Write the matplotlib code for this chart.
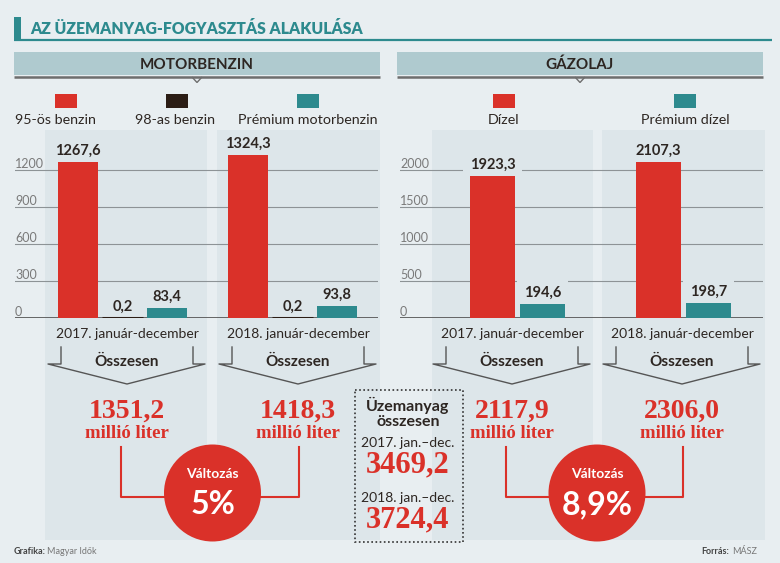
import matplotlib
matplotlib.use('Agg')
import matplotlib.pyplot as plt
from matplotlib.patches import Rectangle, Circle, Polygon
from matplotlib.transforms import blended_transform_factory

# ---------------- data ----------------
title = "AZ ÜZEMANYAG-FOGYASZTÁS ALAKULÁSA"
groups = ["MOTORBENZIN", "GÁZOLAJ"]
periods = ["2017. január-december", "2018. január-december"]
benzin_series = ["95-ös benzin", "98-as benzin", "Prémium motorbenzin"]
benzin_2017 = [1267.6, 0.2, 83.4]
benzin_2018 = [1324.3, 0.2, 93.8]
benzin_ticks = [0, 300, 600, 900, 1200]
gazolaj_series = ["Dízel", "Prémium dízel"]
gazolaj_2017 = [1923.3, 194.6]
gazolaj_2018 = [2107.3, 198.7]
gazolaj_ticks = [0, 500, 1000, 1500, 2000]
benzin_totals = ["1351,2", "1418,3"]
gazolaj_totals = ["2117,9", "2306,0"]
changes = ["5%", "8,9%"]
all_periods = ["2017. jan.–dec.", "2018. jan.–dec."]
all_totals = ["3469,2", "3724,4"]
source = ("Grafika:", "Magyar Idők")
forras = ("Forrás:", "MÁSZ")

# ---------------- style ----------------
W, H, DPI = 780, 563, 100
BG = "#e8eef1"
PANEL = "#dde6ea"
HEAD = "#afcacf"
TEAL = "#2d8a8e"
RED = "#da3129"
DARK = "#2b1d15"
TXT = "#2d2622"
SANS = ["Lato", "DejaVu Sans"]
SERIF = ["Liberation Serif", "DejaVu Serif"]
plt.rcParams['font.family'] = SANS

benzin_colors = [RED, DARK, TEAL]
gazolaj_colors = [RED, TEAL]

fig = plt.figure(figsize=(W / DPI, H / DPI), dpi=DPI)
fig.patch.set_facecolor(BG)


def rect(x0, y0, x1, y1):
    return [x0 / W, 1 - y1 / H, (x1 - x0) / W, (y1 - y0) / H]


def fmt(v):
    return f"{v:.1f}".replace(".", ",")


# background panels
bg = fig.add_axes([0, 0, 1, 1], zorder=0)
bg.set_xlim(0, W); bg.set_ylim(H, 0); bg.axis('off')
for x0, x1 in [(45, 207), (217, 380), (432, 593), (602, 765)]:
    bg.add_patch(Rectangle((x0, 130), x1 - x0, 410, facecolor=PANEL, edgecolor='none'))


# ---------------- bar charts ----------------
def bar_chart(box, data, colors, ticks, first_px, pitch_px, group_gap, label_bbox):
    x0, y0, x1, y1 = box
    ax = fig.add_axes(rect(x0, y0, x1, y1), zorder=1)
    ax.patch.set_alpha(0)
    for s in ax.spines.values():
        s.set_visible(False)
    ax.set_xticks([]); ax.set_yticks([])
    ax.set_xlim((x0 - first_px) / pitch_px, (x1 - first_px) / pitch_px)
    ymax = ticks[-1] * (y1 - y0) / (y1 - 170)
    ax.set_ylim(0, ymax)
    tr = blended_transform_factory(ax.transAxes, ax.transData)
    for t in ticks:
        ax.axhline(t, color="#5a5a5a" if t == 0 else "#8d9396",
                   lw=1.3 if t == 0 else 0.8, zorder=1)
        ax.text(0, t, f"{t}", transform=tr, ha='left', va='bottom',
                fontsize=9, color="#7a7a7a", zorder=1)
    for g, vals in enumerate(data):
        for j, v in enumerate(vals):
            x = g * group_gap + j
            ax.bar(x, v, width=0.9, color=colors[j], zorder=3,
                   edgecolor=colors[j], linewidth=2.2 if v < 5 else 0)
            kw = {}
            if label_bbox:
                kw['bbox'] = dict(boxstyle='square,pad=0.45', fc=PANEL, ec='none')
            ax.annotate(fmt(v), (x, v), xytext=(0, 3), textcoords='offset points',
                        ha='center', va='bottom', fontsize=10.5, fontweight='bold',
                        color=TXT, zorder=2.5, annotation_clip=False, **kw)
    return ax


bar_chart((15, 130, 378, 318), [benzin_2017, benzin_2018], benzin_colors,
          benzin_ticks, 78, 44.5, 170 / 44.5, False)
bar_chart((400, 130, 763, 318), [gazolaj_2017, gazolaj_2018], gazolaj_colors,
          gazolaj_ticks, 492.5, 50, 166 / 50, True)

# ---------------- overlay ----------------
ov = fig.add_axes([0, 0, 1, 1], zorder=2)
ov.patch.set_alpha(0)
ov.set_xlim(0, W); ov.set_ylim(H, 0); ov.axis('off')

# title
ov.add_patch(Rectangle((14, 17), 7, 23, facecolor=TEAL, edgecolor='none'))
ov.plot([14, 772], [40, 40], color=TEAL, lw=1.6, solid_capstyle='butt')
ov.text(30, 29.5, title, ha='left', va='center', fontsize=11.3, fontweight='heavy', color=TEAL)

# section headers
for name, (hx0, hx1) in zip(groups, [(14, 380), (397, 763)]):
    ov.add_patch(Rectangle((hx0, 52), hx1 - hx0, 23, facecolor=HEAD, edgecolor='none'))
    ov.plot([hx0, hx1], [77, 77], color="#6e6e6e", lw=1.8, solid_capstyle='butt')
    c = (hx0 + hx1) / 2
    ov.add_patch(Polygon([(c - 5, 77), (c, 82.5), (c + 5, 77)], closed=False,
                         facecolor=BG, edgecolor="#6e6e6e", lw=1))
    ov.text(c, 65, name, ha='center', va='center', fontsize=11, fontweight='bold', color=TXT)

# legends
for name, col, sq, lab in zip(benzin_series, benzin_colors, [66, 177, 308], [55, 175, 308]):
    ov.add_patch(Rectangle((sq - 11, 94), 22, 14, facecolor=col, edgecolor='none'))
    ov.text(lab, 120, name, ha='center', va='center', fontsize=10.3, color=TXT)
for name, col, sq in zip(gazolaj_series, gazolaj_colors, [504, 685]):
    ov.add_patch(Rectangle((sq - 11, 94), 22, 14, facecolor=col, edgecolor='none'))
    ov.text(sq, 120, name, ha='center', va='center', fontsize=10.3, color=TXT)

# period labels, chevrons, totals
centers = [127, 298, 512, 682]
totals = benzin_totals + gazolaj_totals
for c, per, tot in zip(centers, periods * 2, totals):
    ov.text(c, 334, per, ha='center', va='center', fontsize=10, color=TXT)
    ov.plot([c - 66, c - 66, c - 79, c, c + 78, c + 66, c + 66],
            [347, 364, 364, 384, 364, 364, 347], color="#555555", lw=1)
    ov.text(c, 362, "Összesen", ha='center', va='center', fontsize=11, fontweight='bold', color=TXT)
    ov.text(c, 411, tot, ha='center', va='center', fontsize=20, fontweight='bold',
            color=RED, family=SERIF)
    ov.text(c, 433, "millió liter", ha='center', va='center', fontsize=13.5, fontweight='bold',
            color=RED, family=SERIF)

# change circles
for (c1, c2), ch in zip([(centers[0], centers[1]), (centers[2], centers[3])], changes):
    cx = (c1 + c2) / 2
    ov.plot([c1 - 6, c1 - 6, cx], [447, 497, 497], color=RED, lw=1.5)
    ov.plot([c2 + 1, c2 + 1, cx], [447, 497, 497], color=RED, lw=1.5)
    ov.add_patch(Circle((cx, 493), 48.5, facecolor=RED, edgecolor='none', zorder=3))
    ov.text(cx, 474, "Változás", ha='center', va='center', fontsize=10, fontweight='bold',
            color='white', zorder=4)
    ov.text(cx, 505, ch, ha='center', va='center', fontsize=23, fontweight='bold',
            color='white', zorder=4)

# middle dashed box
ov.add_patch(Rectangle((355, 390), 108, 152, facecolor='none', edgecolor="#333333",
                       linestyle=(0, (1, 1.5)), lw=1.2))
mx = 408
ov.text(mx, 405, "Üzemanyag", ha='center', va='center', fontsize=11.5, fontweight='bold', color=TXT)
ov.text(mx, 421.5, "összesen", ha='center', va='center', fontsize=11.5, fontweight='bold', color=TXT)
for yy, per, tot in zip([443, 498], all_periods, all_totals):
    ov.text(mx, yy, per, ha='center', va='center', fontsize=10, color=TXT)
    ov.text(mx, yy + 22, tot, ha='center', va='center', fontsize=22, fontweight='bold',
            color=RED, family=SERIF)

# footer
ov.text(14, 552, source[0], ha='left', va='center', fontsize=6.5, fontweight='bold', color="#444444")
ov.text(47, 552, source[1], ha='left', va='center', fontsize=6.5, color="#777777")
ov.text(729, 551, forras[0], ha='right', va='center', fontsize=6.5, fontweight='bold', color="#444444")
ov.text(732, 551, forras[1], ha='left', va='center', fontsize=6.5, color="#777777")

fig.savefig("out.png", dpi=DPI, facecolor=BG)
